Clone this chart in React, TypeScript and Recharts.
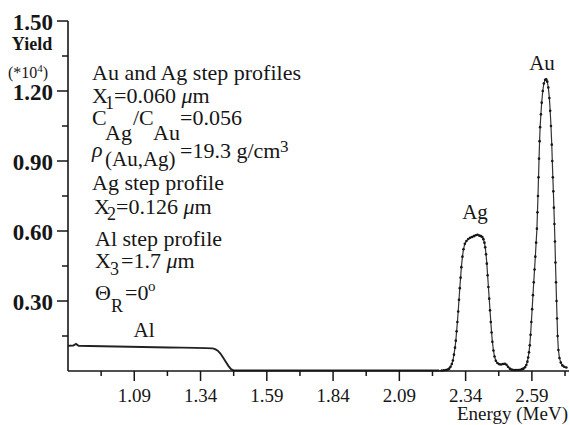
import { ComposedChart, Line, Scatter, XAxis, YAxis } from 'recharts';

const ink = '#161616';
const serif = '"Liberation Serif", "Times New Roman", serif';

// Al step (low energy plateau + edge)
const alEnergy = [0.84, 0.86, 0.87, 0.88, 0.92, 0.97, 1.02, 1.07, 1.12, 1.17, 1.22, 1.27, 1.32, 1.36, 1.385, 1.395, 1.405, 1.415, 1.425, 1.435, 1.445, 1.455, 1.465];
const alYield = [0.108, 0.109, 0.116, 0.108, 0.107, 0.106, 0.105, 0.104, 0.103, 0.102, 0.101, 0.1, 0.099, 0.098, 0.097, 0.094, 0.087, 0.075, 0.058, 0.04, 0.022, 0.008, 0.002];

// flat region between Al edge and Ag peak
const gapEnergy = [1.5, 1.7, 1.9, 2.1, 2.2, 2.24];
const gapYield = [0.002, 0.002, 0.002, 0.002, 0.002, 0.002];

// Ag peak
const agEnergy = [2.25, 2.258, 2.266, 2.272, 2.278, 2.283, 2.288, 2.292, 2.296, 2.3, 2.303, 2.306, 2.309, 2.312, 2.315, 2.318, 2.321, 2.324, 2.328, 2.332, 2.337, 2.343, 2.35, 2.357, 2.364, 2.371, 2.378, 2.385, 2.392, 2.398, 2.403, 2.407, 2.411, 2.414, 2.417, 2.42, 2.423, 2.426, 2.429, 2.432, 2.435, 2.438, 2.441, 2.445, 2.449, 2.454, 2.46, 2.467, 2.474, 2.481, 2.488, 2.494, 2.5, 2.507, 2.514, 2.522, 2.53, 2.538, 2.546, 2.553];
const agYield = [0.002, 0.003, 0.004, 0.006, 0.01, 0.018, 0.03, 0.045, 0.07, 0.1, 0.13, 0.17, 0.21, 0.255, 0.305, 0.355, 0.4, 0.445, 0.49, 0.522, 0.545, 0.557, 0.566, 0.571, 0.574, 0.578, 0.582, 0.584, 0.58, 0.578, 0.574, 0.565, 0.55, 0.53, 0.5, 0.46, 0.41, 0.36, 0.31, 0.26, 0.21, 0.165, 0.125, 0.088, 0.062, 0.044, 0.034, 0.029, 0.028, 0.03, 0.031, 0.027, 0.018, 0.01, 0.006, 0.004, 0.004, 0.004, 0.005, 0.008];

// Au peak
const auEnergy = [2.558, 2.564, 2.569, 2.573, 2.576, 2.579, 2.582, 2.585, 2.588, 2.591, 2.594, 2.597, 2.6, 2.603, 2.606, 2.609, 2.611, 2.613, 2.615, 2.617, 2.619, 2.621, 2.624, 2.627, 2.631, 2.635, 2.64, 2.644, 2.648, 2.652, 2.656, 2.659, 2.662, 2.665, 2.667, 2.669, 2.671, 2.673, 2.675, 2.677, 2.679, 2.681, 2.683, 2.685, 2.687, 2.69, 2.694, 2.699, 2.705, 2.712, 2.72];
const auYield = [0.01, 0.016, 0.026, 0.04, 0.058, 0.08, 0.11, 0.155, 0.21, 0.265, 0.325, 0.38, 0.435, 0.49, 0.55, 0.61, 0.68, 0.75, 0.83, 0.91, 0.985, 1.045, 1.1, 1.15, 1.2, 1.232, 1.248, 1.25, 1.24, 1.215, 1.17, 1.115, 1.05, 0.97, 0.9, 0.83, 0.77, 0.7, 0.63, 0.555, 0.465, 0.38, 0.3, 0.225, 0.15, 0.09, 0.056, 0.036, 0.024, 0.018, 0.015];

const xMajorTicks = [1.09, 1.34, 1.59, 1.84, 2.09, 2.34, 2.59];
const xMinorTicks = [0.965, 1.215, 1.465, 1.715, 1.965, 2.215, 2.465, 2.715];
const yMajorTicks = [0.3, 0.6, 0.9, 1.2, 1.5];
const yMinorTicks = [0.15, 0.45, 0.75, 1.05, 1.35];

const toPoints = (es: number[], ys: number[]) => es.map((e, i) => ({ energy: e, yield: ys[i] }));

const lowProfile = [...toPoints(alEnergy, alYield), ...toPoints(gapEnergy, gapYield)];
const peakProfile = [
  ...toPoints(gapEnergy.slice(-1), gapYield.slice(-1)),
  ...toPoints(agEnergy, agYield),
  ...toPoints(auEnergy, auYield),
];
const measured = [...toPoints(agEnergy, agYield), ...toPoints(auEnergy, auYield)];

const isIn = (list: number[], v: number) => list.some((t) => Math.abs(t - v) < 1e-6);

function XTick(props: any) {
  const { x, y, payload } = props;
  const major = isIn(xMajorTicks, payload.value);
  return (
    <g>
      <line x1={x} x2={x} y1={y} y2={y + (major ? 10 : 5)} stroke={ink} strokeWidth={1.5} />
      {major && (
        <text x={x} y={y + 31} textAnchor="middle" fontSize={19} fill={ink} fontFamily={serif}>
          {payload.value.toFixed(2)}
        </text>
      )}
    </g>
  );
}

function YTick(props: any) {
  const { x, y, payload } = props;
  const major = isIn(yMajorTicks, payload.value);
  return (
    <g>
      <line x1={x - (major ? 11 : 6)} x2={x} y1={y} y2={y} stroke={ink} strokeWidth={1.5} />
      {major && (
        <text x={x - 15} y={y + 9} textAnchor="end" fontSize={23} fontWeight="bold" fill={ink} fontFamily={serif}>
          {payload.value.toFixed(2)}
        </text>
      )}
    </g>
  );
}

const renderDot = (p: any) => <circle cx={p.cx} cy={p.cy} r={1.3} fill={ink} />;

export default function App() {
  return (
    <div style={{ position: 'absolute', left: 0, top: 0, width: 570, height: 425, background: '#fff' }}>
      <ComposedChart width={570} height={425} margin={{ top: 21, right: 1, left: 0, bottom: 0 }}>
        <XAxis
          type="number"
          dataKey="energy"
          domain={[0.84, 2.73]}
          ticks={[...xMinorTicks, ...xMajorTicks].sort((a, b) => a - b)}
          interval={0}
          height={54}
          tickSize={0}
          tickMargin={0}
          tickLine={false}
          tick={<XTick />}
          axisLine={{ stroke: ink, strokeWidth: 1.6 }}
          allowDataOverflow
        />
        <YAxis
          type="number"
          domain={[0, 1.5]}
          ticks={[...yMinorTicks, ...yMajorTicks].sort((a, b) => a - b)}
          interval={0}
          width={68}
          tickSize={0}
          tickMargin={0}
          tickLine={false}
          tick={<YTick />}
          axisLine={{ stroke: ink, strokeWidth: 1.6 }}
        />
        <Line
          data={lowProfile}
          dataKey="yield"
          type="linear"
          stroke="#222"
          strokeWidth={1.9}
          dot={false}
          activeDot={false}
          isAnimationActive={false}
        />
        <Line
          data={peakProfile}
          dataKey="yield"
          type="linear"
          stroke="#333"
          strokeWidth={1.2}
          dot={false}
          activeDot={false}
          isAnimationActive={false}
        />
        <Scatter data={measured} dataKey="yield" shape={renderDot} isAnimationActive={false} />
      </ComposedChart>
      <svg
        width={570}
        height={425}
        style={{ position: 'absolute', left: 0, top: 0, pointerEvents: 'none' }}
        fontFamily={serif}
        fill={ink}
      >
        <text x={32} y={50} textAnchor="middle" fontSize={18} fontWeight="bold">Yield</text>
        <text x={8} y={78} fontSize={16}>
          (*10<tspan dy={-6} fontSize={11}>4</tspan><tspan dy={6}>)</tspan>
        </text>

        <g fontSize={22}>
          <text x={92} y={80}>Au and Ag step profiles</text>
          <text y={103}>
            <tspan x={92}>X</tspan>
            <tspan x={105} y={109} fontSize={18}>1</tspan>
            <tspan x={114} y={103}>=0.060 </tspan>
            <tspan fontStyle="italic">μ</tspan>m
          </text>
          <text y={125}>
            <tspan x={92}>C</tspan>
            <tspan x={105} y={140}>Ag</tspan>
            <tspan x={133} y={125}>/C</tspan>
            <tspan x={153} y={140}>Au</tspan>
            <tspan x={180} y={125}>=0.056</tspan>
          </text>
          <text y={157}>
            <tspan x={92} fontStyle="italic">ρ</tspan>
            <tspan x={105} y={166} fontSize={21}>(Au,Ag)</tspan>
            <tspan x={180} y={158}>=19.3 g/cm</tspan>
            <tspan x={280} y={152} fontSize={17}>3</tspan>
          </text>
          <text x={92} y={190}>Ag step profile</text>
          <text y={214}>
            <tspan x={94}>X</tspan>
            <tspan x={107} y={220} fontSize={18}>2</tspan>
            <tspan x={116} y={214}>=0.126 </tspan>
            <tspan fontStyle="italic">μ</tspan>m
          </text>
          <text x={95} y={246}>Al step profile</text>
          <text y={268}>
            <tspan x={95}>X</tspan>
            <tspan x={110} y={275} fontSize={18}>3</tspan>
            <tspan x={121} y={268}>=1.7 </tspan>
            <tspan fontStyle="italic">μ</tspan>m
          </text>
          <text y={300}>
            <tspan x={95}>Θ</tspan>
            <tspan x={111} y={312} fontSize={18}>R</tspan>
            <tspan x={125} y={300}>=0</tspan>
            <tspan x={148} y={291} fontSize={15}>o</tspan>
          </text>
        </g>

        <text x={144} y={337} textAnchor="middle" fontSize={21}>Al</text>
        <text x={475} y={219} textAnchor="middle" fontSize={21}>Ag</text>
        <text x={542} y={70} textAnchor="middle" fontSize={21}>Au</text>
        <text x={568} y={420} textAnchor="end" fontSize={19}>Energy (MeV)</text>
      </svg>
    </div>
  );
}
